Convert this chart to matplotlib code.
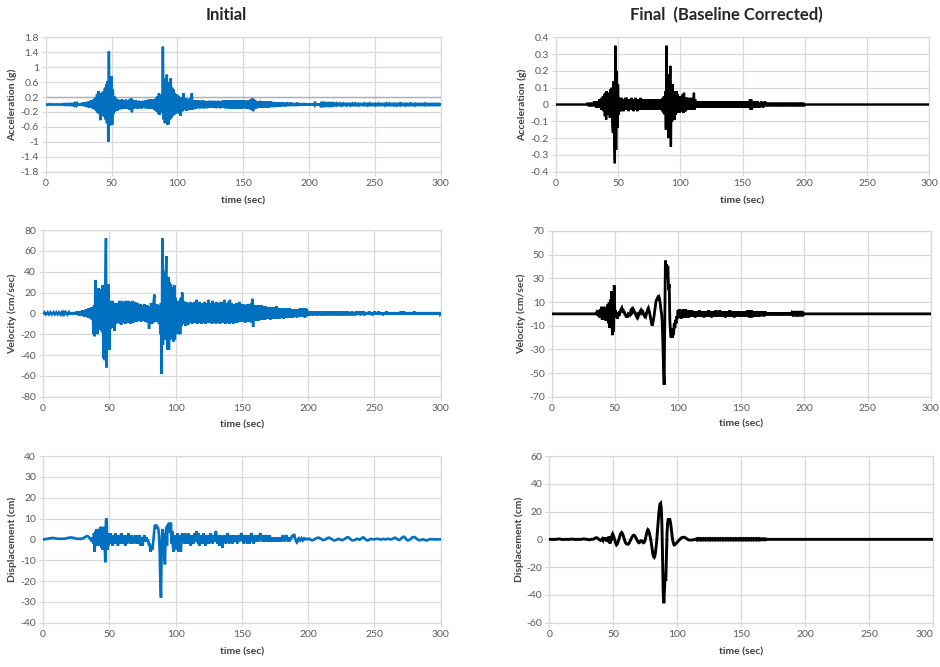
import numpy as np
import matplotlib
matplotlib.use("Agg")
import matplotlib.pyplot as plt

plt.rcParams['font.family'] = ['Lato', 'DejaVu Sans']

# ---------------- data (sampled every DT seconds, 0 .. 300 s) ----------------
DT = 0.5
ACC_UNIT = 0.01   # acceleration lists are in units of 0.01 g

acc_initial = [
    0,1,0,-1,0,1,0,-1,0,1,
    0,-1,0,1,0,-1,0,1,0,-1,
    0,1,0,-1,0,1,0,-1,1,-1,
    0,1,-1,1,0,-1,1,-1,1,-1,
    1,-1,1,-2,2,-1,2,-2,2,-2,
    3,-2,3,-3,4,-3,4,-4,5,-4,
    6,-5,7,-6,7,-8,9,-7,10,-9,
    11,-10,13,-12,15,-14,20,-18,28,-22,
    36,-25,28,-42,30,-28,32,-30,35,-33,
    45,-40,55,-50,62,-100,142,-57,70,-52,
    76,-55,40,-25,22,-20,18,-15,14,-16,
    13,-12,10,-13,12,-10,14,-12,10,-11,
    11,-12,13,-10,9,-12,10,-14,15,-13,
    16,-21,12,-11,9,-10,11,-9,10,-12,
    9,-10,10,-8,9,-11,8,-9,10,-8,
    9,-10,11,-9,10,-12,13,-10,12,-11,
    14,-12,10,-11,13,-14,15,-16,18,-20,
    22,-25,30,-28,26,-22,20,-20,155,-40,
    60,-50,70,-45,80,-55,60,-52,50,-40,
    70,-35,45,-30,40,-28,30,-25,28,-22,
    25,-20,22,-25,20,-30,18,-15,-18,30,
    -15,18,-14,16,-17,15,-13,14,-15,16,
    -12,18,30,-14,12,-11,10,-12,11,-10,
    10,-9,11,-10,9,-10,10,-9,11,-10,
    9,-10,10,-9,8,-10,9,-8,10,-9,
    9,-8,10,-9,8,-9,10,-8,9,-10,
    8,-9,10,-8,9,-10,8,-9,10,-9,
    10,-9,11,-10,9,-10,11,-9,10,-11,
    11,-10,12,-11,10,-12,11,-10,12,-11,
    10,-11,12,-10,11,-12,10,-11,12,-10,
    9,-10,11,-9,10,-11,9,-10,11,-12,
    12,-13,15,-14,16,-18,14,-12,11,-10,
    9,-10,8,-9,9,-8,10,-9,8,-9,
    8,-9,7,-8,8,-7,9,-8,7,-8,
    7,-6,8,-7,6,-7,7,-6,6,-7,
    6,-5,5,-6,5,-5,6,-5,5,-4,
    5,-4,4,-5,4,-4,5,-4,4,-4,
    4,-4,5,-4,4,-3,4,-4,3,-4,
    4,-3,5,-4,3,-3,4,-3,3,-3,
    3,-3,4,-3,3,-2,3,-3,2,-3,
    3,-2,2,-3,2,-2,3,-2,2,-2,
    2,-2,3,-2,2,-3,2,-2,2,-2,
    2,-2,2,-2,2,-1,2,-2,1,-2,
    2,-1,2,-2,1,-2,2,-1,2,-1,
    1,-2,2,-1,1,-1,2,-1,1,-2,
    1,-1,2,-1,1,-1,1,-2,1,-1,
    1,-1,1,-2,1,-1,2,-1,1,-1,
    2,-1,1,-1,1,-2,1,-1,1,-1,
    1,-1,1,-1,2,-1,1,-1,1,-2,
    1,-1,2,-1,1,-1,1,-1,1,-1,
    1,-2,1,-1,1,-1,2,-1,1,-1,
    1,-1,1,-1,1,-2,1,-1,2,-1,
    1,-1,2,-1,1,-1,1,-1,1,-2,
    1,-1,1,-2,1,-1,1,-1,2,-1,
    2,-1,1,-1,1,-1,1,-2,1,-1,
    1,-1,1,-1,2,-1,1,-1,1,-1,
    1,-2,1,-1,1,-1,1,-1,1,-1,
    1,-1,1,-1,1,-1,2,-1,1,-1,
    1,-1,1,-1,1,-1,1,-1,1,-1,
    1,-1,1,-1,1,-1,1,-1,1,-1,
    0,
]

acc_final = [
    0,0,0,0,0,0,0,0,0,0,
    0,0,0,0,0,0,0,0,0,0,
    0,0,0,0,0,0,0,0,0,0,
    0,0,0,0,0,0,0,0,0,0,
    0,0,0,0,0,0,0,0,0,0,
    0,1,0,-1,1,-1,1,-1,1,-1,
    1,-1,2,-1,2,-2,2,-2,2,-2,
    3,-2,3,-3,4,-3,5,-4,6,-7,
    7,-9,8,-6,5,-6,7,-8,9,-8,
    10,-12,-17,14,-18,-35,35,-27,20,-14,
    12,-6,4,-4,3,-4,4,-3,3,-4,
    3,-3,4,-3,4,-3,3,-4,3,-3,
    3,-3,4,-3,3,-4,3,-3,4,-3,
    3,-4,3,-3,3,-3,4,-3,3,-3,
    3,-3,3,-2,3,-3,2,-3,3,-3,
    2,-3,3,-2,3,-3,3,-2,3,-3,
    3,-3,3,-3,3,-2,3,-3,3,-3,
    3,-4,4,-5,5,-6,8,-15,35,-12,
    18,-20,15,-18,23,-25,12,-10,12,-8,
    8,-9,7,-6,8,-5,6,-5,5,-5,
    5,-4,5,-4,6,-5,7,-4,4,-4,
    4,-3,4,-3,3,-3,4,-3,3,-3,
    4,-3,7,-3,3,-2,2,-2,2,-2,
    2,-2,2,-2,2,-2,2,-2,2,-2,
    2,-2,2,-2,2,-2,2,-2,2,-2,
    2,-2,2,-2,2,-2,2,-2,2,-2,
    2,-2,2,-2,2,-2,2,-2,2,-2,
    2,-2,2,-2,2,-2,2,-2,2,-2,
    2,-2,2,-2,2,-2,2,-2,2,-2,
    2,-2,2,-2,2,-2,2,-2,2,-2,
    2,-2,2,-2,2,-2,2,-2,2,-2,
    2,-2,3,-3,3,-3,2,-2,2,-2,
    2,-1,1,-2,2,-1,1,-2,1,-1,
    2,-1,1,-2,1,-1,2,-1,1,-1,
    1,-1,1,-1,1,-1,1,-1,1,-1,
    1,-1,1,-1,1,-1,1,-1,1,-1,
    1,-1,1,-1,1,-1,1,-1,1,-1,
    1,-1,1,-1,1,-1,1,-1,1,-1,
    1,-1,1,-1,1,-1,1,-1,1,-1,
    1,-1,1,-1,1,-1,1,-1,1,-1,
    0,0,0,0,0,0,0,0,0,0,
    0,0,0,0,0,0,0,0,0,0,
    0,0,0,0,0,0,0,0,0,0,
    0,0,0,0,0,0,0,0,0,0,
    0,0,0,0,0,0,0,0,0,0,
    0,0,0,0,0,0,0,0,0,0,
    0,0,0,0,0,0,0,0,0,0,
    0,0,0,0,0,0,0,0,0,0,
    0,0,0,0,0,0,0,0,0,0,
    0,0,0,0,0,0,0,0,0,0,
    0,0,0,0,0,0,0,0,0,0,
    0,0,0,0,0,0,0,0,0,0,
    0,0,0,0,0,0,0,0,0,0,
    0,0,0,0,0,0,0,0,0,0,
    0,0,0,0,0,0,0,0,0,0,
    0,0,0,0,0,0,0,0,0,0,
    0,0,0,0,0,0,0,0,0,0,
    0,0,0,0,0,0,0,0,0,0,
    0,0,0,0,0,0,0,0,0,0,
    0,0,0,0,0,0,0,0,0,0,
    0,
]

vel_initial = [
    0,0,1,0,-1,0,0,1,0,-1,
    0,1,0,-1,0,0,1,0,-1,0,
    1,0,-1,0,1,0,-1,0,1,-1,
    0,1,-1,0,1,-1,1,-1,0,1,
    -1,1,-1,1,-1,1,-1,1,-1,1,
    -1,2,-1,2,-2,2,-2,2,-2,3,
    -2,3,-3,3,-3,4,-3,4,-4,5,
    -4,5,-5,6,-6,6,-20,8,-22,32,
    -18,15,-20,20,24,-16,18,-15,23,-18,
    27,-43,25,-45,28,72,-52,20,-30,28,
    -35,12,-15,10,-14,12,-12,8,-17,10,
    -10,9,-8,10,-9,12,-10,8,-11,12,
    -9,10,-8,11,-10,12,-9,10,-8,12,
    -9,11,-10,9,-8,12,-9,10,-8,11,
    -7,9,-8,10,-6,8,-7,9,-8,7,
    -6,8,-7,9,-8,6,-7,8,-9,7,
    -15,6,-8,10,-10,8,-9,12,18,-8,
    8,-7,9,-8,6,-10,8,-20,10,-58,
    72,-30,25,40,-25,30,55,-20,-35,35,
    -35,30,-25,28,-22,25,-20,-27,27,-25,
    15,-18,12,-20,10,-15,12,-20,15,-12,
    20,-10,12,-9,10,-12,11,-10,9,-11,
    10,-9,11,-8,9,-10,10,-9,11,-8,
    10,-9,13,-10,9,-8,11,-9,10,-10,
    9,-8,10,-9,11,-10,9,-8,10,-9,
    13,-9,10,-8,9,-10,12,-9,10,-8,
    9,-10,11,-9,10,-8,9,-10,11,-9,
    10,-9,11,-8,13,-10,9,-8,10,-9,
    11,-10,13,-9,10,-8,9,-10,8,-9,
    9,-8,10,-9,8,-7,11,-8,9,-8,
    8,-7,9,-8,7,-9,8,-7,9,-8,
    8,-7,9,-8,10,-9,14,-13,8,-7,
    7,-6,8,-7,6,-7,8,-6,7,-6,
    8,-6,7,-5,6,-6,7,-5,6,-5,
    6,-5,5,-6,6,-5,5,-4,6,-5,
    5,-4,7,-5,5,-4,5,-5,4,-4,
    5,-4,4,-5,5,-4,4,-4,5,-3,
    4,-4,5,-3,4,-4,3,-4,4,-3,
    4,-3,4,-4,3,-3,4,-3,5,-3,
    4,-3,5,-3,4,-4,5,-3,4,-2,
    2,-2,1,-2,2,-1,2,-2,1,-2,
    2,-1,2,-2,1,-2,2,-1,2,-2,
    1,-2,2,-1,2,-2,1,-1,2,-2,
    2,-1,1,-2,2,-1,2,-2,1,-1,
    2,-2,1,-1,2,-2,1,-2,2,-1,
    1,-2,2,-1,1,-2,2,-1,1,-2,
    2,-1,1,-2,1,-1,2,-2,1,-1,
    1,-2,2,-1,1,-1,2,-1,1,-2,
    2,-1,1,-1,2,-2,1,-1,1,-1,
    1,-1,2,-1,1,-1,1,-2,1,-1,
    2,-1,1,-1,1,-1,2,-1,1,-1,
    1,-1,1,-2,1,-1,1,-1,2,-1,
    1,-1,1,-1,1,-1,1,-1,1,-1,
    1,-1,1,-1,1,-1,1,-1,1,-1,
    2,-1,1,-1,2,-1,1,-1,1,-1,
    1,-1,1,-1,1,-1,1,-1,1,-1,
    2,-1,1,-1,1,-1,1,-1,1,-1,
    1,-1,1,-1,1,-1,1,-1,1,-1,
    1,-1,1,-1,1,-1,1,-1,1,-1,
    1,-1,1,-1,1,-1,1,-1,1,-1,
    0,
]

vel_final = [
    0,0,0,0,0,0,0,0,0,0,
    0,0,0,0,0,0,0,0,0,0,
    0,0,0,0,0,0,0,0,0,0,
    0,0,0,0,0,0,0,0,0,0,
    0,0,0,0,0,0,0,0,0,0,
    0,0,0,0,0,0,0,0,0,0,
    0,0,0,0,0,0,0,0,0,0,
    0,1,-1,2,-2,3,-3,4,-3,6,
    -5,5,-4,6,-5,4,-6,5,-6,8,
    -8,10,-12,12,8,19,-18,10,-15,24,
    -2,3,-3,1,-4,1,-2,2,1,3,
    4,5,3,4,1,2,-1,0,-3,-1,
    -3,-1,-2,1,0,2,1,3,2,4,
    3,2,1,-1,-2,-3,-1,-2,0,1,
    2,1,3,2,3,0,-1,-2,-1,-2,
    0,2,4,5,3,1,-2,-5,-8,-10,
    -8,-5,-2,2,6,10,12,13,14,13,
    14,12,8,3,0,-8,-25,-45,-60,-10,
    45,30,42,35,40,20,25,-5,-15,-20,
    -12,-20,-15,-18,-8,-12,-5,-8,-2,-4,
    3,-3,4,-2,3,-4,2,-3,4,-3,
    3,-3,4,-2,3,-3,2,-3,3,-2,
    2,-2,3,-2,2,-2,2,-3,2,-2,
    2,-2,2,-2,3,-2,2,-2,2,-2,
    2,-3,2,-2,2,-2,2,-2,3,-2,
    2,-2,2,-3,2,-2,2,-2,2,-2,
    3,-2,2,-2,2,-2,3,-2,2,-2,
    2,-2,2,-2,2,-3,2,-2,2,-2,
    2,-2,3,-2,2,-2,2,-2,2,-3,
    2,-2,2,-2,2,-2,2,-2,2,-2,
    2,-2,2,-2,2,-2,2,-2,2,-2,
    3,-2,2,-3,3,-2,3,-3,2,-2,
    2,-2,2,-2,2,-2,2,-2,2,-2,
    2,-2,2,-1,2,-2,1,-2,2,-1,
    1,-1,1,-1,1,-1,1,-1,1,-1,
    1,-1,1,-1,1,-1,1,-1,1,-1,
    1,-1,1,-1,1,-1,1,-1,1,-1,
    1,-1,1,-1,1,-1,1,-1,1,-1,
    0.5,-0.5,0.5,-0.5,0.5,-0.5,0.5,-0.5,0.5,-0.5,
    0.5,-0.5,0.5,-0.5,0.5,-0.5,0.5,-0.5,0.5,-0.5,
    0,0,0,0,0,0,0,0,0,0,
    0,0,0,0,0,0,0,0,0,0,
    0,0,0,0,0,0,0,0,0,0,
    0,0,0,0,0,0,0,0,0,0,
    0,0,0,0,0,0,0,0,0,0,
    0,0,0,0,0,0,0,0,0,0,
    0,0,0,0,0,0,0,0,0,0,
    0,0,0,0,0,0,0,0,0,0,
    0,0,0,0,0,0,0,0,0,0,
    0,0,0,0,0,0,0,0,0,0,
    0,0,0,0,0,0,0,0,0,0,
    0,0,0,0,0,0,0,0,0,0,
    0,0,0,0,0,0,0,0,0,0,
    0,0,0,0,0,0,0,0,0,0,
    0,0,0,0,0,0,0,0,0,0,
    0,0,0,0,0,0,0,0,0,0,
    0,0,0,0,0,0,0,0,0,0,
    0,0,0,0,0,0,0,0,0,0,
    0,0,0,0,0,0,0,0,0,0,
    0,0,0,0,0,0,0,0,0,0,
    0,
]

disp_initial = [
    0,0,0,0.1,0.1,0.2,0.2,0.3,0.3,0.4,
    0.5,0.5,0.6,0.6,0.7,0.7,0.6,0.6,0.5,0.5,
    0.4,0.4,0.3,0.3,0.3,0.3,0.3,0.3,0.3,0.3,
    0.3,0.3,0.3,0.4,0.4,0.5,0.6,0.6,0.7,0.8,
    0.8,0.9,0.9,0.9,0.8,0.8,0.7,0.6,0.5,0.4,
    0.4,0.3,0.3,0.3,0.3,0.2,0.2,0.3,0.3,0.4,
    0.5,0.6,0.8,1.0,1.2,1.4,1.5,1.5,1.4,1.2,
    0.8,0.3,0,-0.5,-1,1,-2,3,-6,4,
    -2,5,-3,3,5,-3,2,6,-4,6,
    -5,2,6,-3,-11,9,10,-5,3,-3,
    2,-2,3,-1,2,-3,1,2,-2,3,
    1,-2,2,-3,-1,2,1,-2,3,1,
    -2,2,-1,1,-3,-1,2,-2,1,3,
    -1,2,-2,1,2,-2,0,1,-1,2,
    -2,1,2,-1,-2,1,2,-3,-2,1,
    -3,-1,1,2,-1,0,1,-1,0,-1,
    -3,-2,-6,-4,-3,-5,-2,1,5,7,
    6,7,5,6,5,2,-5,-20,-28,-5,
    5,-6,3,-8,-12,2,6,-3,7,4,
    8,5,3,8,-2,4,-3,-6,2,-2,
    -5,1,-3,3,-4,-6,2,-2,-6,1,
    3,-1,2,-2,3,1,-2,2,-1,3,
    -2,1,2,-3,1,-1,2,-2,1,3,
    -1,2,4,1,-2,3,-3,1,2,-2,
    1,-2,3,-1,2,-3,1,2,-2,1,
    2,-2,1,3,-1,2,-2,1,2,-1,
    3,4,1,-2,2,-1,-3,1,2,-3,
    -2,-4,1,2,-1,2,-2,1,3,-1,
    2,-2,1,2,-1,1,-2,2,1,-1,
    2,-1,1,-2,2,1,-1,2,1,3,
    2,-1,1,-2,2,-1,1,2,-2,1,
    -1,2,-2,1,3,2,-1,1,-2,1,
    2,-1,1,-1,2,1,-1,2,3,1,
    2,-1,1,-1,2,1,-1,1,2,-1,
    1,-1,2,0,-1,1,-1,1,0,-1,
    1,-1,0,1,-1,1,0,-1,1,0,
    -1,1,2,1,-1,0,1,2,1,-1,
    0,1,-1,1,0,1,2,1,2,2.5,
    1,0,-1,-1.5,-1,0,0.5,0,-0.5,0,
    0.5,0,-0.5,0,0.5,0.3,0,0.2,0.3,0.2,
    0,0.2,0.3,0.1,-0.2,-0.4,-0.5,-0.4,-0.2,0,
    0.1,0.3,0.5,0.6,0.7,0.8,0.8,0.7,0.5,0.3,
    0.1,-0.1,-0.2,-0.3,-0.3,-0.2,0,0.2,0.4,0.6,
    0.7,0.8,0.8,0.6,0.4,0.2,0,-0.2,-0.4,-0.5,
    -0.5,-0.4,-0.3,-0.2,0,0.2,0.2,0.1,0,-0.2,
    -0.3,-0.4,-0.3,-0.2,0,0.2,0.4,0.6,0.8,1.0,
    1.0,0.9,0.7,0.4,0.1,-0.2,-0.4,-0.5,-0.5,-0.4,
    -0.3,-0.2,0,0.2,0.3,0.2,0,-0.2,-0.1,0.1,
    0.3,0.6,0.9,1.0,0.8,0.5,0.2,-0.1,-0.3,-0.5,
    -0.5,-0.4,-0.2,0,0.1,0.2,0.2,0.1,0,0,
    0,0.1,0.2,0.2,0.3,0.3,0.2,0.1,0,-0.1,
    -0.1,0,0.1,0.2,0.2,0.1,0,0,0.1,0.2,
    0.2,0.3,0.2,0.1,0,0,0.1,0.2,0.3,0.5,
    0.7,0.8,0.7,0.5,0.2,0,-0.2,-0.3,-0.2,0,
    0.3,0.6,0.9,1.2,1.3,1.2,0.9,0.5,0.1,-0.3,
    -0.5,-0.5,-0.4,-0.2,0,0.3,0.6,0.9,1.0,1.1,
    1.1,1.0,0.8,0.5,0.2,0,-0.2,-0.3,-0.4,-0.4,
    -0.3,-0.2,-0.1,0,0,-0.1,-0.2,-0.4,-0.5,-0.5,
    -0.4,-0.3,-0.1,0,0.1,0.1,0,0,0.1,0.1,
    0,0,-0.1,-0.1,0,0,0,0,0,0,
    0,
]

disp_final = [
    0,0,0,0,0,0,0,0,0,0,
    0,0,0.1,0.2,0.3,0.3,0.3,0.2,0.1,0,
    0,-0.1,-0.1,0,0,0,0,0,0,0,
    0,0,0,0.1,0.2,0.2,0.2,0.1,0,0,
    0,-0.1,-0.1,0,0,0,0,0,0,0,
    0,0.1,0.2,0.3,0.3,0.3,0.2,0.1,0,0,
    0,-0.2,-0.3,-0.3,-0.2,0,0,0,0,0.2,
    0.4,0.7,1,1.2,1.2,1,0.6,0.2,-0.2,-0.5,
    -0.8,-0.6,0,0.5,-0.5,1,-1,1.5,-1,0.5,
    -1.5,1,-2,2,-1,-3,2,-1,3,4,
    3,1.5,0,-1.5,-3,-4,-3.5,-2.5,-1,0.5,
    2,3.5,4.5,5,4.5,3.5,2,0.5,-1,-2.5,
    -3,-3.4,-3.5,-3.5,-3.2,-2.5,-1.5,-0.5,0.5,1.5,
    2.2,2.8,3,2.8,2.2,1.4,0.5,-0.5,-1.4,-2.1,
    -2.5,-2.3,-1.5,-1,-1,-1.3,-2,-2.5,-2.3,-1.5,
    0,2,4,6,7,6.5,5,3,1,-1.5,
    -4.5,-8,-11,-12.5,-13,-12,-9,-5,0,6,
    12,18,22.5,25.5,26,22,10,-15,-38,-46,
    -35,-25,-30,-12,5,12,15,12,15,13,
    10,6,2,-1,-3,-4,-4,-3.5,-3,-2.5,
    -2,-1.5,-1,-0.5,0,0.5,1,1.2,1.4,1.5,
    1.5,1.5,1.3,1,0.7,0.3,0,-0.2,-0.4,-0.5,
    -0.5,-0.6,-0.5,-0.5,-0.4,-0.3,-0.2,-0.1,0,0.2,
    -0.3,0.2,-0.3,0.3,-0.2,0.2,-0.3,0.3,-0.2,0.2,
    -0.3,0.3,-0.2,0.2,-0.3,0.3,-0.2,0.2,-0.3,0.3,
    -0.2,0.3,-0.3,0.2,-0.2,0.3,-0.3,0.2,-0.2,0.3,
    -0.3,0.2,-0.2,0.3,-0.3,0.2,-0.2,0.3,-0.3,0.2,
    -0.2,0.3,-0.3,0.2,-0.2,0.3,-0.3,0.2,-0.2,0.3,
    -0.3,0.2,-0.2,0.3,-0.3,0.2,-0.2,0.3,-0.3,0.2,
    -0.2,0.3,-0.3,0.2,-0.2,0.3,-0.3,0.2,-0.2,0.3,
    -0.3,0.2,-0.2,0.3,-0.3,0.2,-0.2,0.3,-0.3,0.2,
    -0.2,0.3,-0.3,0.2,-0.2,0.3,-0.3,0.2,-0.2,0.3,
    -0.3,0.2,-0.2,0.3,-0.3,0.2,-0.2,0.3,-0.3,0.2,
    -0.2,0.2,-0.2,0.2,-0.2,0.2,-0.2,0.2,-0.2,0.2,
    0,0,0,0,0,0,0,0,0,0,
    0,0,0,0,0,0,0,0,0,0,
    0,0,0,0,0,0,0,0,0,0,
    0,0,0,0,0,0,0,0,0,0,
    0,0,0,0,0,0,0,0,0,0,
    0,0,0,0,0,0,0,0,0,0,
    0,0,0,0,0,0,0,0,0,0,
    0,0,0,0,0,0,0,0,0,0,
    0,0,0,0,0,0,0,0,0,0,
    0,0,0,0,0,0,0,0,0,0,
    0,0,0,0,0,0,0,0,0,0,
    0,0,0,0,0,0,0,0,0,0,
    0,0,0,0,0,0,0,0,0,0,
    0,0,0,0,0,0,0,0,0,0,
    0,0,0,0,0,0,0,0,0,0,
    0,0,0,0,0,0,0,0,0,0,
    0,0,0,0,0,0,0,0,0,0,
    0,0,0,0,0,0,0,0,0,0,
    0,0,0,0,0,0,0,0,0,0,
    0,0,0,0,0,0,0,0,0,0,
    0,0,0,0,0,0,0,0,0,0,
    0,0,0,0,0,0,0,0,0,0,
    0,0,0,0,0,0,0,0,0,0,
    0,0,0,0,0,0,0,0,0,0,
    0,0,0,0,0,0,0,0,0,0,
    0,0,0,0,0,0,0,0,0,0,
    0,
]

x_ticks = [0, 50, 100, 150, 200, 250, 300]
acc_i_ticks = [-1.8, -1.4, -1.0, -0.6, -0.2, 0.2, 0.6, 1.0, 1.4, 1.8]
acc_f_ticks = [-0.4, -0.3, -0.2, -0.1, 0.0, 0.1, 0.2, 0.3, 0.4]
vel_i_ticks = [-80, -60, -40, -20, 0, 20, 40, 60, 80]
vel_f_ticks = [-70, -50, -30, -10, 10, 30, 50, 70]
dis_i_ticks = [-40, -30, -20, -10, 0, 10, 20, 30, 40]
dis_f_ticks = [-60, -40, -20, 0, 20, 40, 60]

col_titles = ["Initial", "Final  (Baseline Corrected)"]
y_labels = ["Acceleration (g)", "Velocity (cm/sec)", "Displacement (cm)"]
x_label = "time (sec)"

BLUE = "#0070C0"
BLACK = "#000000"
GRID = "#D9D9D9"
TICKC = "#595959"

fig = plt.figure(figsize=(9.4, 6.67), dpi=100)

def fmt(v):
    s = ("%g" % v)
    return "0" if s in ("-0", "0") else s

def make_ax(rect, series, scale, ticks, color, lw, ylab, ylab_x, xlab_y, extra_line=None):
    ax = fig.add_axes(rect)
    vals = np.asarray(series, dtype=float) * scale
    t = np.arange(len(vals)) * DT
    ax.set_xlim(x_ticks[0], x_ticks[-1])
    ax.set_ylim(ticks[0], ticks[-1])
    ax.set_xticks(x_ticks)
    ax.set_xticklabels([fmt(v) for v in x_ticks])
    ax.set_yticks(ticks)
    ax.set_yticklabels([fmt(v) for v in ticks])
    ax.grid(True, color=GRID, lw=0.9)
    ax.set_axisbelow(True)
    if extra_line is not None:
        ax.axhline(extra_line, color="#B0B0B0", lw=1.0, zorder=1)
    for sp in ax.spines.values():
        sp.set_color(GRID)
        sp.set_linewidth(0.9)
    ax.tick_params(axis='both', colors=GRID, labelcolor=TICKC, labelsize=7.5,
                   length=3, width=0.8, pad=2)
    ax.plot(t, vals, color=color, lw=lw, solid_joinstyle='miter', zorder=3)
    ax.set_ylabel(ylab, fontsize=7.5, fontweight='bold', color="#404040")
    ax.yaxis.set_label_coords(ylab_x, 0.5)
    ax.set_xlabel(x_label, fontsize=7.5, fontweight='bold', color="#404040")
    ax.xaxis.set_label_coords(0.5, xlab_y)
    return ax

W, H = 940.0, 667.0
def rect(x0, x1, y0, y1):
    return [x0 / W, 1 - y1 / H, (x1 - x0) / W, (y1 - y0) / H]

make_ax(rect(45.7, 440.7, 37.3, 171.7), acc_initial, ACC_UNIT, acc_i_ticks, BLUE, 1.8,
        y_labels[0], -0.073, -0.185, extra_line=0.2)
make_ax(rect(555.7, 929.3, 37.3, 171.7), acc_final, ACC_UNIT, acc_f_ticks, BLACK, 1.7,
        y_labels[0], -0.077, -0.185)
make_ax(rect(43.0, 440.7, 230.0, 396.7), vel_initial, 1.0, vel_i_ticks, BLUE, 1.8,
        y_labels[1], -0.065, -0.14)
make_ax(rect(551.7, 930.7, 231.0, 396.7), vel_final, 1.0, vel_f_ticks, BLACK, 2.0,
        y_labels[1], -0.068, -0.14)
make_ax(rect(43.0, 440.7, 456.0, 622.7), disp_initial, 1.0, dis_i_ticks, BLUE, 1.9,
        y_labels[2], -0.065, -0.15)
ax_br = make_ax(rect(549.3, 933.3, 456.0, 622.7), disp_final, 1.0, dis_f_ticks, BLACK, 2.1,
                y_labels[2], -0.066, -0.15)
# keep the last tick label of the bottom-right panel inside the figure
ax_br.get_xticklabels()[-1].set_horizontalalignment('right')

fig.text(226 / W, 1 - 15 / H, col_titles[0], ha='center', va='center',
         fontsize=12, fontweight='bold', color="#262626")
fig.text(726 / W, 1 - 15 / H, col_titles[1], ha='center', va='center',
         fontsize=12, fontweight='bold', color="#262626")

fig.savefig("out.png", dpi=100)
